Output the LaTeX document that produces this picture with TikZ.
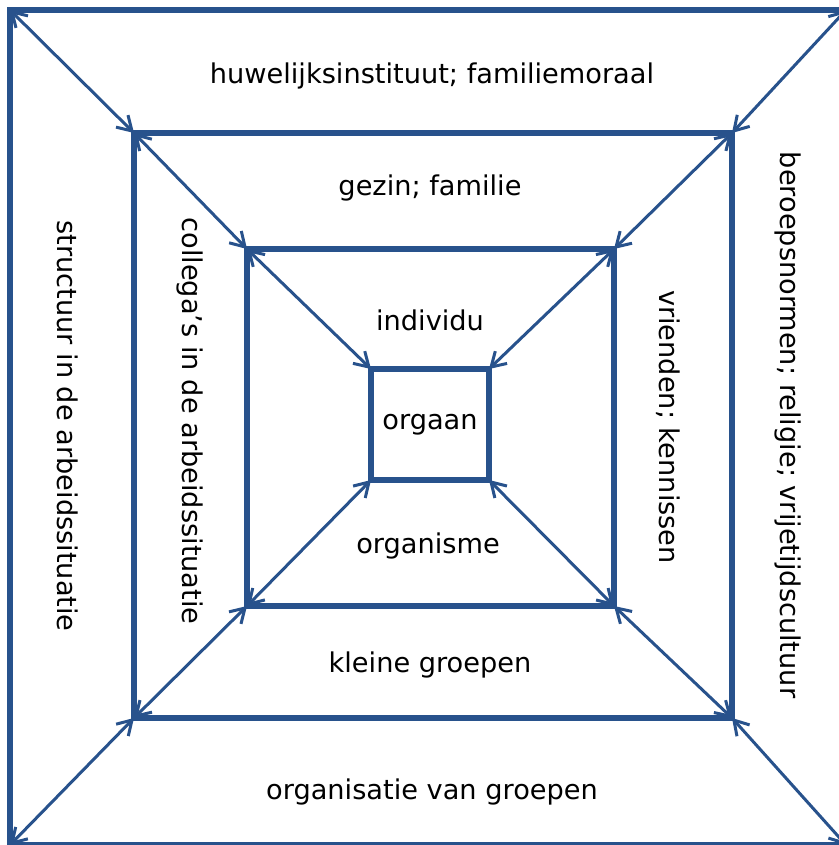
\documentclass[tikz,border=0pt]{standalone}
\usepackage{fontspec}
\setmainfont{DejaVu Sans}
\usetikzlibrary{arrows.meta}
\definecolor{frameblue}{RGB}{40,82,140}

\begin{document}
\begin{tikzpicture}[
    x=1pt, y=-1pt,
    sq/.style={rectangle, draw=frameblue, line width=5.5pt, outer sep=0pt, inner sep=0pt},
    link/.style={draw=frameblue, line width=3pt, {Straight Barb[length=14pt,width=17pt]}-{Straight Barb[length=14pt,width=17pt]}},
    lbl/.style={font=\fontsize{27.2}{32}\selectfont, text=black},
    vlbl/.style={lbl, rotate=-90}
]
    \useasboundingbox (0,0) rectangle (838,845);

    % Nested squares
    \node[sq, minimum width=836pt, minimum height=835pt] (s1) at (428,427.5) {};
    \node[sq, minimum width=598pt, minimum height=585pt] (s2) at (433,425.5) {};
    \node[sq, minimum width=367pt, minimum height=357pt] (s3) at (430.5,427.5) {};
    \node[sq, lbl, minimum width=118pt, minimum height=111pt] (s4) at (430,424.5) {orgaan};

    % Corner arrows
    \foreach \a/\b in {s1/s2, s2/s3, s3/s4} {
        \foreach \c in {north west, north east, south west, south east} {
            \draw[link] (\a.\c) -- (\b.\c);
        }
    }

    % Labels
    \node[lbl] (top1) at (432,76) {huwelijksinstituut; familiemoraal};
    \node[lbl] (top2) at (430,188) {gezin; familie};
    \node[lbl] (top3) at (430,320) {individu};
    \node[lbl] (bot3) at (428,546) {organisme};
    \node[lbl] (bot2) at (430,665) {kleine groepen};
    \node[lbl] (bot1) at (432,792) {organisatie van groepen};
    \node[vlbl] (left1) at (68,426) {structuur in de arbeidssituatie};
    \node[vlbl] (left2) at (190,421) {collega’s in de arbeidssituatie};
    \node[vlbl] (right3) at (668,427) {vrienden; kennissen};
    \node[vlbl] (right2) at (788,425) {beroepsnormen; religie; vrijetijdscultuur};
\end{tikzpicture}
\end{document}
